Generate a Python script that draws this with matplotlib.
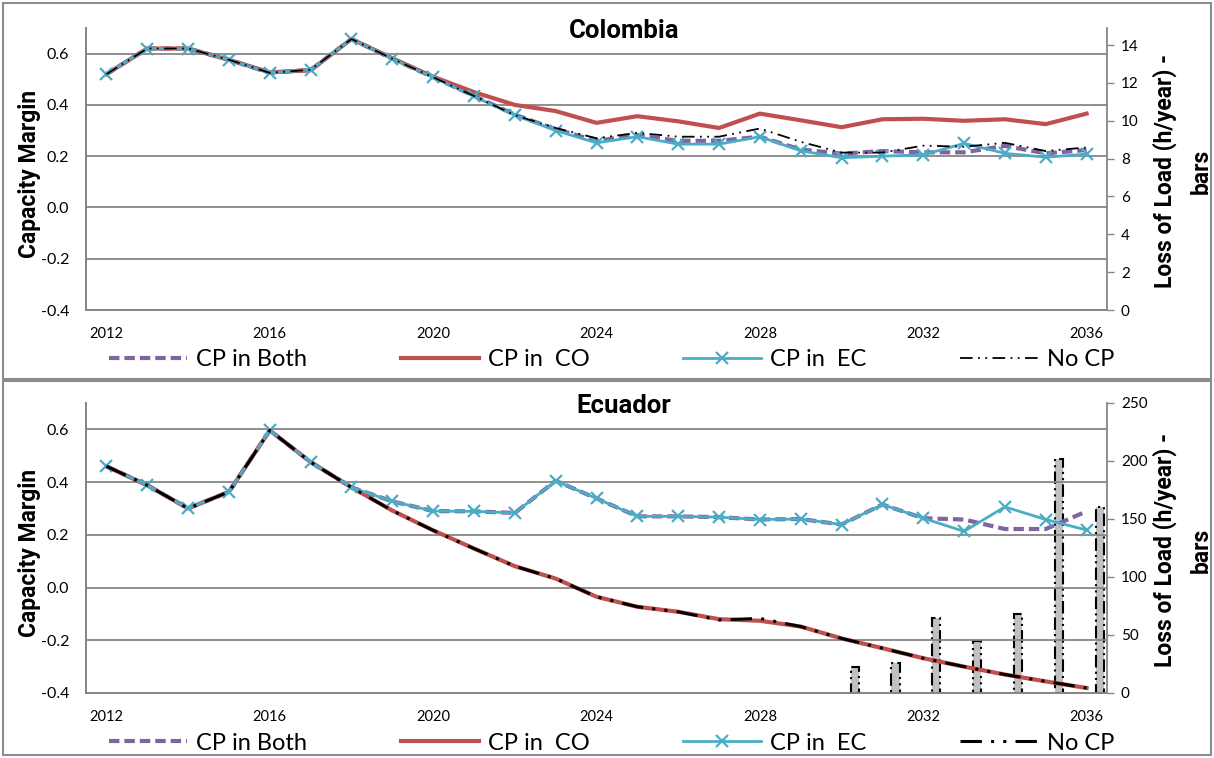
"""
Capacity margin and loss of load for Colombia and Ecuador, 2012-2036.
"""

import matplotlib.pyplot as plt
from matplotlib.patches import Rectangle
from matplotlib.ticker import FormatStrFormatter

plt.rcParams['font.family'] = ['Lato', 'DejaVu Sans']
plt.rcParams['axes.unicode_minus'] = False

years = list(range(2012, 2037))
year_ticks = [2012, 2016, 2020, 2024, 2028, 2032, 2036]

# Colombia - capacity margin
co_both = [0.52, 0.62, 0.62, 0.576, 0.525, 0.537, 0.657, 0.58, 0.508, 0.435, 0.362, 0.305, 0.26,
           0.282, 0.26, 0.26, 0.276, 0.226, 0.21, 0.22, 0.215, 0.215, 0.24, 0.211, 0.224]
co_co = [0.52, 0.62, 0.62, 0.576, 0.527, 0.535, 0.657, 0.582, 0.51, 0.45, 0.40, 0.376, 0.33,
         0.356, 0.336, 0.31, 0.366, 0.34, 0.313, 0.344, 0.346, 0.338, 0.344, 0.325, 0.366]
co_ec = [0.52, 0.62, 0.62, 0.576, 0.525, 0.537, 0.657, 0.58, 0.508, 0.433, 0.36, 0.30, 0.252,
         0.276, 0.247, 0.247, 0.276, 0.221, 0.194, 0.20, 0.205, 0.25, 0.211, 0.196, 0.208]
co_none = [0.52, 0.62, 0.62, 0.576, 0.525, 0.537, 0.657, 0.58, 0.508, 0.435, 0.36, 0.31, 0.27,
           0.291, 0.276, 0.276, 0.308, 0.256, 0.214, 0.214, 0.241, 0.237, 0.252, 0.22, 0.234]

# Ecuador - capacity margin
ec_both = [0.46, 0.388, 0.30, 0.363, 0.596, 0.476, 0.38, 0.327, 0.29, 0.289, 0.283, 0.405, 0.338,
           0.27, 0.27, 0.267, 0.258, 0.26, 0.239, 0.315, 0.263, 0.258, 0.222, 0.222, 0.289]
ec_co = [0.46, 0.388, 0.30, 0.363, 0.596, 0.476, 0.38, 0.292, 0.217, 0.148, 0.081, 0.034, -0.035,
         -0.073, -0.092, -0.12, -0.126, -0.148, -0.193, -0.23, -0.268, -0.30, -0.33, -0.356, -0.381]
ec_ec = [0.46, 0.388, 0.30, 0.363, 0.596, 0.476, 0.38, 0.327, 0.29, 0.289, 0.283, 0.405, 0.338,
         0.27, 0.27, 0.267, 0.258, 0.26, 0.239, 0.315, 0.263, 0.213, 0.306, 0.258, 0.218]
ec_none = [0.46, 0.388, 0.30, 0.363, 0.596, 0.476, 0.38, 0.292, 0.217, 0.148, 0.081, 0.034, -0.035,
           -0.073, -0.092, -0.123, -0.117, -0.148, -0.193, -0.23, -0.268, -0.30, -0.33, -0.356, -0.381]

# Ecuador - loss of load without CP (h/year)
lol_years = [2030, 2031, 2032, 2033, 2034, 2035, 2036]
ec_lol = [22, 26, 65, 45, 68, 202, 160]

legend_labels = ['CP in Both', 'CP in  CO', 'CP in  EC', 'No CP']

GRAY = '#868686'
BOLD = ['Roboto', 'DejaVu Sans']
W, H = 1214, 758


def fx(px):
    return px / W


def fy(py):
    return 1 - py / H


def draw_panel(top, bottom, title, both, co, ec, none, r_max, r_ticks, bars=None, none_lw=1.3):
    ax = plt.gcf().add_axes([fx(86), fy(bottom), fx(1107) - fx(86), fy(top) - fy(bottom)])
    ax2 = ax.twinx()
    ax.set_zorder(ax2.get_zorder() + 1)
    ax.patch.set_visible(False)

    idx = [y - years[0] for y in years]
    l1, = ax.plot(idx, both, color='#8064A2', lw=3, ls=(0, (2.5, 1.2)))
    l2, = ax.plot(idx, co, color='#C0504D', lw=3)
    l3, = ax.plot(idx, ec, color='#4BACC6', lw=2, marker='x', ms=9, mew=1.6)
    l4, = ax.plot(idx, none, color='black', lw=none_lw, ls=(0, (7, 3, 1, 3, 1, 3)))

    if bars is not None:
        bx = [y - years[0] + 0.32 for y in bars[0]]
        ax2.bar(bx, bars[1], width=0.2, color='#C0C0C0', edgecolor='black',
                linewidth=1.5, linestyle=(0, (6, 2, 1, 2, 1, 2)))

    ax.set_xlim(-0.5, len(years) - 0.5)
    ax.set_ylim(-0.4, 0.7)
    ax.set_yticks([-0.4, -0.2, 0.0, 0.2, 0.4, 0.6])
    ax.yaxis.set_major_formatter(FormatStrFormatter('%.1f'))
    ax.set_xticks([y - years[0] for y in year_ticks])
    ax.set_xticklabels([str(y) for y in year_ticks])
    ax.grid(axis='y', color=GRAY, lw=1.3)
    ax.set_axisbelow(True)
    ax.tick_params(axis='y', length=0, pad=12, labelsize=11.5)
    ax.tick_params(axis='x', length=0, pad=12, labelsize=10.5)

    ax2.set_ylim(0, r_max)
    ax2.set_yticks(r_ticks)
    ax2.tick_params(axis='y', length=5, width=1, color=GRAY, pad=5, labelsize=11)

    for a in (ax, ax2):
        a.spines['top'].set_visible(False)
        for s in ('left', 'right', 'bottom'):
            a.spines[s].set_color(GRAY)
            a.spines[s].set_linewidth(1.3)
    ax.spines['right'].set_visible(False)

    fig = plt.gcf()
    fig.text(fx(624), fy(top + 3), title, ha='center', va='center', fontsize=18.5,
             fontweight='bold', family=BOLD)
    mid = (top + bottom) / 2
    fig.text(fx(30), fy(mid + 5), 'Capacity Margin', rotation=90, ha='center', va='center',
             fontsize=16.5, fontweight='bold', family=BOLD)
    fig.text(fx(1165), fy(mid + 2), 'Loss of Load (h/year) -', rotation=90, ha='center',
             va='center', fontsize=16.5, fontweight='bold', family=BOLD)
    fig.text(fx(1201), fy(mid + 2), 'bars', rotation=90, ha='center', va='center',
             fontsize=16.5, fontweight='bold', family=BOLD)

    fig.legend([l1, l2, l3, l4], legend_labels, loc='center', ncol=4,
               bbox_to_anchor=(fx(612), fy(bottom + 50)), frameon=False, fontsize=17,
               handlelength=3.3, handletextpad=0.4, columnspacing=3.95)
    return ax


fig = plt.figure(figsize=(W / 100, H / 100), dpi=100)

draw_panel(28, 310, 'Colombia', co_both, co_co, co_ec, co_none, 14.9, range(0, 15, 2))
draw_panel(403, 693, 'Ecuador', ec_both, ec_co, ec_ec, ec_none, 250, range(0, 251, 50),
           bars=(lol_years, ec_lol), none_lw=2.2)

for y0, y1 in ((3, 379), (381, 755)):
    fig.add_artist(Rectangle((fx(3), fy(y1)), fx(1211) - fx(3), fy(y0) - fy(y1),
                             transform=fig.transFigure, fill=False, edgecolor='#8c8c8c', lw=1.5))

plt.savefig('out.png', dpi=100)
